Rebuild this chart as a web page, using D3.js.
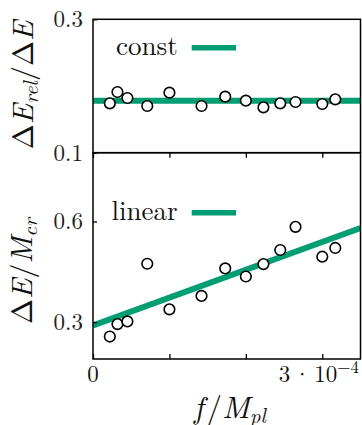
<!DOCTYPE html>
<html>
<head>
<meta charset="utf-8">
<script src="https://cdn.jsdelivr.net/npm/d3@7"></script>
<style>
  body { margin: 0; background: #fff; }
</style>
</head>
<body>
<svg id="chart" width="362" height="425"></svg>
<script>
// values
const fVals = [0.22e-4, 0.32e-4, 0.45e-4, 0.71e-4, 1.0e-4, 1.42e-4, 1.73e-4, 2.0e-4, 2.23e-4, 2.45e-4, 2.65e-4, 3.0e-4, 3.17e-4];
const relVals = [0.174, 0.191, 0.182, 0.170, 0.190, 0.170, 0.184, 0.178, 0.168, 0.174, 0.176, 0.173, 0.180];
const massVals = [0.257, 0.294, 0.302, 0.474, 0.338, 0.378, 0.460, 0.436, 0.473, 0.515, 0.584, 0.495, 0.521];
const constFit = 0.178;
const linearFit = { intercept: 0.29, slope: 830 };
const xTicks = [0, 1e-4, 2e-4, 3e-4];
const topTicks = [0.1, 0.3];
const botTicks = [0.3, 0.6];

const FONT = '"Latin Modern Roman", "Liberation Serif", serif';
const green = '#009e73';
const svg = d3.select('#chart');

const x = d3.scaleLinear().domain([0, 3.5e-4]).range([93, 360.5]);
const yTop = d3.scaleLinear().domain([0.1, 0.3]).range([152.7, 19.3]);
const yBot = d3.scaleLinear().domain([0.19, 0.805]).range([359, 152.7]);

const rows = fVals.map((f, i) => ({ f: f, rel: relVals[i], mass: massVals[i] }));

function txt(parent) {
  return parent.append('text').style('font-family', FONT).attr('fill', '#111');
}

svg.append('defs').append('clipPath').attr('id', 'clipAll')
  .append('rect')
  .attr('x', x.range()[0]).attr('y', yTop.range()[1])
  .attr('width', x.range()[1] - x.range()[0])
  .attr('height', yBot.range()[0] - yTop.range()[1]);

// fit lines
svg.append('line')
  .attr('clip-path', 'url(#clipAll)')
  .attr('x1', x(0)).attr('x2', x(3.5e-4))
  .attr('y1', yTop(constFit)).attr('y2', yTop(constFit))
  .attr('stroke', green).attr('stroke-width', 6);

svg.append('line')
  .attr('clip-path', 'url(#clipAll)')
  .attr('x1', x(0)).attr('x2', x(3.5e-4))
  .attr('y1', yBot(linearFit.intercept))
  .attr('y2', yBot(linearFit.intercept + linearFit.slope * 3.5e-4))
  .attr('stroke', green).attr('stroke-width', 6);

// points
svg.append('g').selectAll('circle').data(rows).join('circle')
  .attr('cx', d => x(d.f)).attr('cy', d => yTop(d.rel)).attr('r', 5.3)
  .attr('fill', '#fff').attr('stroke', '#000').attr('stroke-width', 1.6);

svg.append('g').selectAll('circle').data(rows).join('circle')
  .attr('cx', d => x(d.f)).attr('cy', d => yBot(d.mass)).attr('r', 5.3)
  .attr('fill', '#fff').attr('stroke', '#000').attr('stroke-width', 1.6);

// frames
svg.append('rect')
  .attr('x', x.range()[0]).attr('y', yTop.range()[1])
  .attr('width', x.range()[1] - x.range()[0])
  .attr('height', yTop.range()[0] - yTop.range()[1])
  .attr('fill', 'none').attr('stroke', '#000').attr('stroke-width', 1.5);
svg.append('rect')
  .attr('x', x.range()[0]).attr('y', yBot.range()[1])
  .attr('width', x.range()[1] - x.range()[0])
  .attr('height', yBot.range()[0] - yBot.range()[1])
  .attr('fill', 'none').attr('stroke', '#000').attr('stroke-width', 1.5);

// x ticks: inward on bottom panel, top and bottom edges
const xAxisBot = svg.append('g')
  .attr('transform', `translate(0,${yBot.range()[0]})`)
  .call(d3.axisBottom(x).tickValues(xTicks).tickSizeInner(-5).tickSizeOuter(0).tickFormat(() => ''));
const xAxisMid = svg.append('g')
  .attr('transform', `translate(0,${yBot.range()[1]})`)
  .call(d3.axisTop(x).tickValues(xTicks).tickSizeInner(-5).tickSizeOuter(0).tickFormat(() => ''));
[xAxisBot, xAxisMid].forEach(g => {
  g.select('.domain').remove();
  g.selectAll('text').remove();
  g.selectAll('line').attr('stroke', '#000').attr('stroke-width', 1.3);
});

// x tick labels
const xLab = svg.append('g');
txt(xLab).attr('x', x(0)).attr('y', 381.7).attr('font-size', 23)
  .attr('text-anchor', 'middle').text('0');
const t3 = txt(xLab).attr('x', 359).attr('y', 381.7).attr('font-size', 23)
  .attr('text-anchor', 'end');
t3.append('tspan').text('3');
t3.append('tspan').attr('dx', 3).text('·');
t3.append('tspan').attr('dx', 3).text('10');
t3.append('tspan').attr('dy', -9).attr('font-size', 17).text('−4');

// y axes
function yAxis(scale, ticks) {
  const g = svg.append('g')
    .attr('transform', `translate(${x.range()[0]},0)`)
    .call(d3.axisLeft(scale).tickValues(ticks).tickSizeInner(-4).tickSizeOuter(0).tickPadding(10).tickFormat(d3.format('.1f')));
  g.select('.domain').remove();
  g.selectAll('line').attr('stroke', '#000').attr('stroke-width', 1.3);
  g.selectAll('text').attr('font-size', 23).style('font-family', FONT).attr('fill', '#222');
}
yAxis(yTop, topTicks);
yAxis(yBot, botTicks);

// legends
function legend(label, tx, ty, ly) {
  txt(svg).attr('x', tx).attr('y', ty).attr('font-size', 27).text(label);
  svg.append('line').attr('x1', 191.7).attr('x2', 236).attr('y1', ly).attr('y2', ly)
    .attr('stroke', green).attr('stroke-width', 5.5);
}
legend('const', 116, 55, 47.7);
legend('linear', 111.5, 220, 212.7);

// axis titles
const yt1 = txt(svg)
  .attr('transform', 'translate(33,85) rotate(-90)')
  .attr('text-anchor', 'middle').attr('font-size', 30);
yt1.append('tspan').text('Δ');
yt1.append('tspan').attr('font-style', 'italic').text('E');
yt1.append('tspan').attr('font-style', 'italic').attr('font-size', 21).attr('dy', 5).text('rel');
yt1.append('tspan').attr('dy', -5).text('/Δ');
yt1.append('tspan').attr('font-style', 'italic').text('E');

const yt2 = txt(svg)
  .attr('transform', 'translate(32,271) rotate(-90)')
  .attr('text-anchor', 'middle').attr('font-size', 30);
yt2.append('tspan').text('Δ');
yt2.append('tspan').attr('font-style', 'italic').text('E');
yt2.append('tspan').text('/');
yt2.append('tspan').attr('font-style', 'italic').text('M');
yt2.append('tspan').attr('font-style', 'italic').attr('font-size', 21).attr('dy', 5).text('cr');

const xt = txt(svg)
  .attr('x', 230).attr('y', 418)
  .attr('text-anchor', 'middle').attr('font-size', 31);
xt.append('tspan').attr('font-style', 'italic').text('f');
xt.append('tspan').attr('dx', 3).text('/');
xt.append('tspan').attr('font-style', 'italic').text('M');
xt.append('tspan').attr('font-style', 'italic').attr('font-size', 21).attr('dy', 5).text('pl');
</script>
</body>
</html>
